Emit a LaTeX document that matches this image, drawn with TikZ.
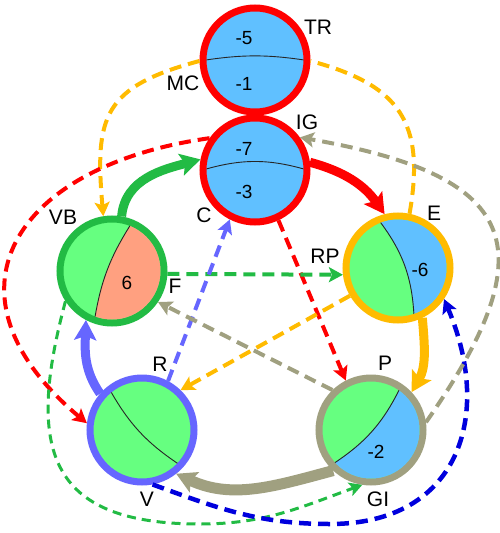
\documentclass[tikz,border=0pt]{standalone}
\usepackage{fontspec}
\setmainfont{Liberation Sans}
\usetikzlibrary{arrows.meta}
\definecolor{ringred}{HTML}{FF0000}
\definecolor{skyfill}{HTML}{60C0FF}
\definecolor{leaffill}{HTML}{66FF80}
\definecolor{salmonfill}{HTML}{FFA080}
\definecolor{grassgreen}{HTML}{22BB44}
\definecolor{amber}{HTML}{FFBB00}
\definecolor{periwinkle}{HTML}{6666FF}
\definecolor{khaki}{HTML}{A0A080}
\definecolor{deepblue}{HTML}{0000DD}
\tikzstyle{ball}=[circle, line width=7pt, minimum size=104pt, inner sep=0pt]
\tikzstyle{tag}=[inner sep=0pt, font=\fontsize{21}{21}\selectfont]
\tikzstyle{num}=[inner sep=0pt, font=\fontsize{19}{19}\selectfont]
\tikzstyle{divider}=[line width=0.9pt, black!85]
\tikzstyle{bigarrow}=[line width=9pt, -{Stealth[length=20pt, width=22pt, inset=4pt]}]
\tikzstyle{dashline}=[line width=4pt, dash pattern=on 12pt off 7pt]
\tikzstyle{dasharrow}=[dashline, -{Stealth[length=14pt, width=15pt, inset=3pt]}]
\tikzstyle{thinarrow}=[line width=3pt, dash pattern=on 9pt off 6pt, -{Stealth[length=13pt, width=14pt, inset=3pt]}]

\begin{document}
\begin{tikzpicture}[x=1pt, y=-1pt]
\useasboundingbox (0,0) rectangle (499,533);
% Circles
    \node[ball, draw=ringred, fill=skyfill] (tr) at (255,60) {};
    \node[ball, draw=ringred, fill=skyfill] (c) at (255,170) {};
    \node[ball, draw=grassgreen, fill=leaffill] (vb) at (112,271) {};
    \node[ball, draw=amber, fill=leaffill] (e) at (398,268) {};
    \node[ball, draw=periwinkle, fill=leaffill] (r) at (142,430) {};
    \node[ball, draw=khaki, fill=leaffill] (p) at (371,430) {};
% Halves
    \begin{scope}
    \clip (tr.center) circle (48.5pt);
    \draw[divider] (tr.181) to[bend left=9] (tr.-1);
    \end{scope}
    \begin{scope}
    \clip (c.center) circle (48.5pt);
    \draw[divider] (c.181) to[bend left=17] (c.-1);
    \end{scope}
    \begin{scope}
    \clip (vb.center) circle (48.5pt);
    \fill[salmonfill] (vb.67) to[bend right=12] (vb.251) -- ++(0,30) -- ++(100,0) -- ++(0,-200) -- cycle;
    \draw[divider] (vb.67) to[bend right=12] (vb.251);
    \end{scope}
    \begin{scope}
    \clip (e.center) circle (48.5pt);
    \fill[skyfill] (e.113) to[bend left=18] (e.-73) -- ++(0,30) -- ++(100,0) -- ++(0,-200) -- cycle;
    \draw[divider] (e.113) to[bend left=18] (e.-73);
    \end{scope}
    \begin{scope}
    \clip (r.center) circle (48.5pt);
    \draw[divider] (r.128) to[bend right=14] (r.-42);
    \end{scope}
    \begin{scope}
    \clip (p.center) circle (48.5pt);
    \fill[skyfill] (p.56) to[bend left=16] (p.221) -- ++(0,40) -- ++(120,0) -- ++(0,-200) -- cycle;
    \draw[divider] (p.56) to[bend left=16] (p.221);
    \end{scope}
% Thick arrows
    \draw[bigarrow, grassgreen] (vb.80) to[out=85, in=195] (c.169);
    \draw[bigarrow, ringred] (c.8) to[out=-15, in=125] (e.104);
    \draw[bigarrow, amber] (e.-64) to[out=-85, in=60] (p.43);
    \draw[bigarrow, khaki, line width=11pt] (p.227) to[out=195, in=-25] (r.-52);
    \draw[bigarrow, periwinkle] (r.139) to[out=125, in=-92] (vb.242);
% Dashed arrows
    \coordinate (gb) at (200,524);
    \coordinate (bb) at (330,524);
    \draw[dashline, amber] (e.78) to[out=80, in=-15, looseness=1.3] (tr.-1);
    \draw[dasharrow, amber] (tr.181) to[out=195, in=95, looseness=1.4] (vb.99);
    \draw[dasharrow, ringred] (c.145) to[out=188, in=140, looseness=1.65] (r.173);
    \draw[dasharrow, ringred] (c.-65) -- (p.117);
    \draw[dasharrow, grassgreen] (vb.-3) -- (e.187);
    \draw[thinarrow, grassgreen] (vb.213) to[out=255, in=180, looseness=1.5] (gb) to[out=0, in=200] (p.261);
    \draw[dasharrow, deepblue, line width=4.5pt] (r.-79) to[out=-20, in=180] (bb) to[out=0, in=-67, looseness=1.3] (e.-34);
    \draw[dasharrow, periwinkle] (r.62) -- (c.243);
    \draw[dasharrow, amber] (e.210) -- (r.46);
    \draw[dasharrow, khaki] (p.134) -- (vb.-34);
    \draw[dasharrow, khaki] (p.8) to[out=55, in=-10, looseness=1.8] (c.36);
% Labels
    \node[tag] (trtag) at (318,27) {TR};
    \node[tag] (mctag) at (183,83) {MC};
    \node[tag] (igtag) at (307,122) {IG};
    \node[tag] (ctag) at (204,215) {C};
    \node[tag] (vbtag) at (63,217) {VB};
    \node[tag] (ftag) at (175,286) {F};
    \node[tag] (rptag) at (325,256) {RP};
    \node[tag] (etag) at (434,213) {E};
    \node[tag] (ptag) at (385,363) {P};
    \node[tag] (rtag) at (160,364) {R};
    \node[tag] (vtag) at (147,499) {V};
    \node[tag] (gitag) at (378,499) {GI};
% Numbers
    \node[num] (trtop) at (244,38) {-5};
    \node[num] (trbot) at (244,84) {-1};
    \node[num] (ctop) at (244,149) {-7};
    \node[num] (cbot) at (244,192) {-3};
    \node[num] (vbnum) at (127,283) {6};
    \node[num] (enum) at (420,270) {-6};
    \node[num] (pnum) at (376,452) {-2};
\end{tikzpicture}
\end{document}
